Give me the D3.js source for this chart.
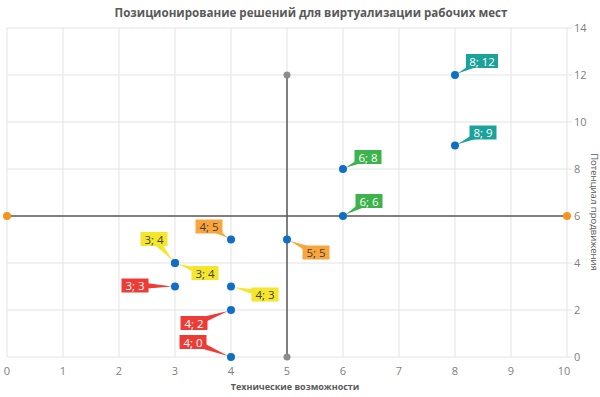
<!DOCTYPE html>
<html>
<head>
<meta charset="utf-8">
<script src="https://cdn.jsdelivr.net/npm/d3@7"></script>
<style>
  body { margin: 0; background: #fff; }
  svg { font-family: "Open Sans", "Noto Sans", sans-serif; }
</style>
</head>
<body>
<div id="chart"></div>
<script>
// Chart data
const tech = [3, 3, 3, 4, 4, 4, 4, 5, 6, 6, 8, 8];
const potential = [3, 4, 4, 0, 2, 3, 5, 5, 6, 8, 9, 12];
const group = ['red', 'yellow', 'yellow', 'red', 'red', 'yellow', 'orange', 'orange', 'green', 'green', 'teal', 'teal'];
const xTicks = [0, 1, 2, 3, 4, 5, 6, 7, 8, 9, 10];
const yTicks = [0, 2, 4, 6, 8, 10, 12, 14];
const hLine = [[0, 6], [10, 6]];
const vLine = [[5, 0], [5, 12]];

// label callout offsets (box centre relative to the point), layout only
const labelOffset = [
  [-40, -1], [-21, -24], [30, 10], [-38, -15], [-37, 13], [34, 8],
  [-22, -13], [29, 13], [26, -15], [25, -12], [28, -13], [27, -14]
];

const width = 600;
const height = 397;
const COLORS = {
  red: '#ED3B35', yellow: '#F4E62B', orange: '#F9A53D', green: '#3CB44B', teal: '#1BA39B'
};
const TEXT_DARK = { yellow: '#404040', orange: '#404040' };

const svg = d3.select('#chart').append('svg')
  .attr('width', width)
  .attr('height', height);

const x = d3.scaleLinear().domain([0, 10]).range([7, 567]);
const y = d3.scaleLinear().domain([0, 14]).range([357, 28]);

// title
svg.append('text')
  .attr('x', 311).attr('y', 17)
  .attr('text-anchor', 'middle')
  .attr('font-size', 11.6).attr('font-weight', 'bold')
  .attr('fill', '#595959')
  .text('Позиционирование решений для виртуализации рабочих мест');

// grid
svg.append('g').selectAll('line')
  .data(xTicks).enter().append('line')
  .attr('x1', d => x(d)).attr('x2', d => x(d))
  .attr('y1', y(14)).attr('y2', y(0))
  .attr('stroke', '#e3e3e3');
svg.append('g').selectAll('line')
  .data(yTicks).enter().append('line')
  .attr('x1', x(0)).attr('x2', x(10) + 5)
  .attr('y1', d => y(d)).attr('y2', d => y(d))
  .attr('stroke', '#e3e3e3');

// x tick labels
svg.append('g').selectAll('text')
  .data(xTicks).enter().append('text')
  .attr('x', d => x(d) - (d === 10 ? 3 : 0)).attr('y', 375)
  .attr('text-anchor', 'middle')
  .attr('font-size', 11).attr('fill', '#7f7f7f')
  .text(d => d);

// y tick labels (right side)
svg.append('g').selectAll('text')
  .data(yTicks).enter().append('text')
  .attr('x', 574).attr('y', d => y(d) + 4)
  .attr('font-size', 11).attr('fill', '#7f7f7f')
  .text(d => d);

// axis titles
svg.append('text')
  .attr('x', 295).attr('y', 390)
  .attr('text-anchor', 'middle')
  .attr('font-size', 9).attr('font-weight', 'bold')
  .attr('fill', '#595959')
  .text('Технические возможности');
svg.append('text')
  .attr('transform', 'translate(591,212) rotate(90)')
  .attr('text-anchor', 'middle')
  .attr('font-size', 9.5)
  .attr('fill', '#595959')
  .text('Потенциал продвижения');

// quadrant lines
const line = d3.line().x(d => x(d[0])).y(d => y(d[1]));
svg.append('path').attr('d', line(hLine))
  .attr('stroke', '#595959').attr('stroke-width', 1.5).attr('fill', 'none');
svg.append('path').attr('d', line(vLine))
  .attr('stroke', '#595959').attr('stroke-width', 1.5).attr('fill', 'none');
svg.append('g').selectAll('circle')
  .data(hLine).enter().append('circle')
  .attr('cx', d => x(d[0])).attr('cy', d => y(d[1])).attr('r', 4)
  .attr('fill', '#F7941D');
svg.append('g').selectAll('circle')
  .data(vLine).enter().append('circle')
  .attr('cx', d => x(d[0])).attr('cy', d => y(d[1])).attr('r', 3.5)
  .attr('fill', '#8c8c8c');

// callout labels
const labels = svg.append('g');
tech.forEach((t, i) => {
  const px = x(t), py = y(potential[i]);
  const cx = px + labelOffset[i][0], cy = py + labelOffset[i][1];
  const txt = `${t}; ${potential[i]}`;
  const bw = txt.length > 4 ? 32 : 27, bh = 14;
  const col = COLORS[group[i]];
  // wedge
  const dx = px - cx, dy = py - cy;
  const len = Math.hypot(dx, dy);
  const nx = -dy / len * 4, ny = dx / len * 4;
  const g = labels.append('g');
  g.append('path')
    .attr('d', `M${cx + nx},${cy + ny}L${px - dx / len * 3},${py - dy / len * 3}L${cx - nx},${cy - ny}Z`)
    .attr('fill', col);
  g.append('rect')
    .attr('x', cx - bw / 2).attr('y', cy - bh / 2)
    .attr('width', bw).attr('height', bh)
    .attr('fill', col);
  g.append('text')
    .attr('x', cx).attr('y', cy + 4.5)
    .attr('text-anchor', 'middle')
    .attr('font-size', 11.5)
    .attr('fill', TEXT_DARK[group[i]] || '#ffffff')
    .text(txt);
});

// points
svg.append('g').selectAll('circle')
  .data(tech).enter().append('circle')
  .attr('cx', d => x(d)).attr('cy', (d, i) => y(potential[i])).attr('r', 4)
  .attr('fill', '#0F6FC6');
</script>
</body>
</html>
